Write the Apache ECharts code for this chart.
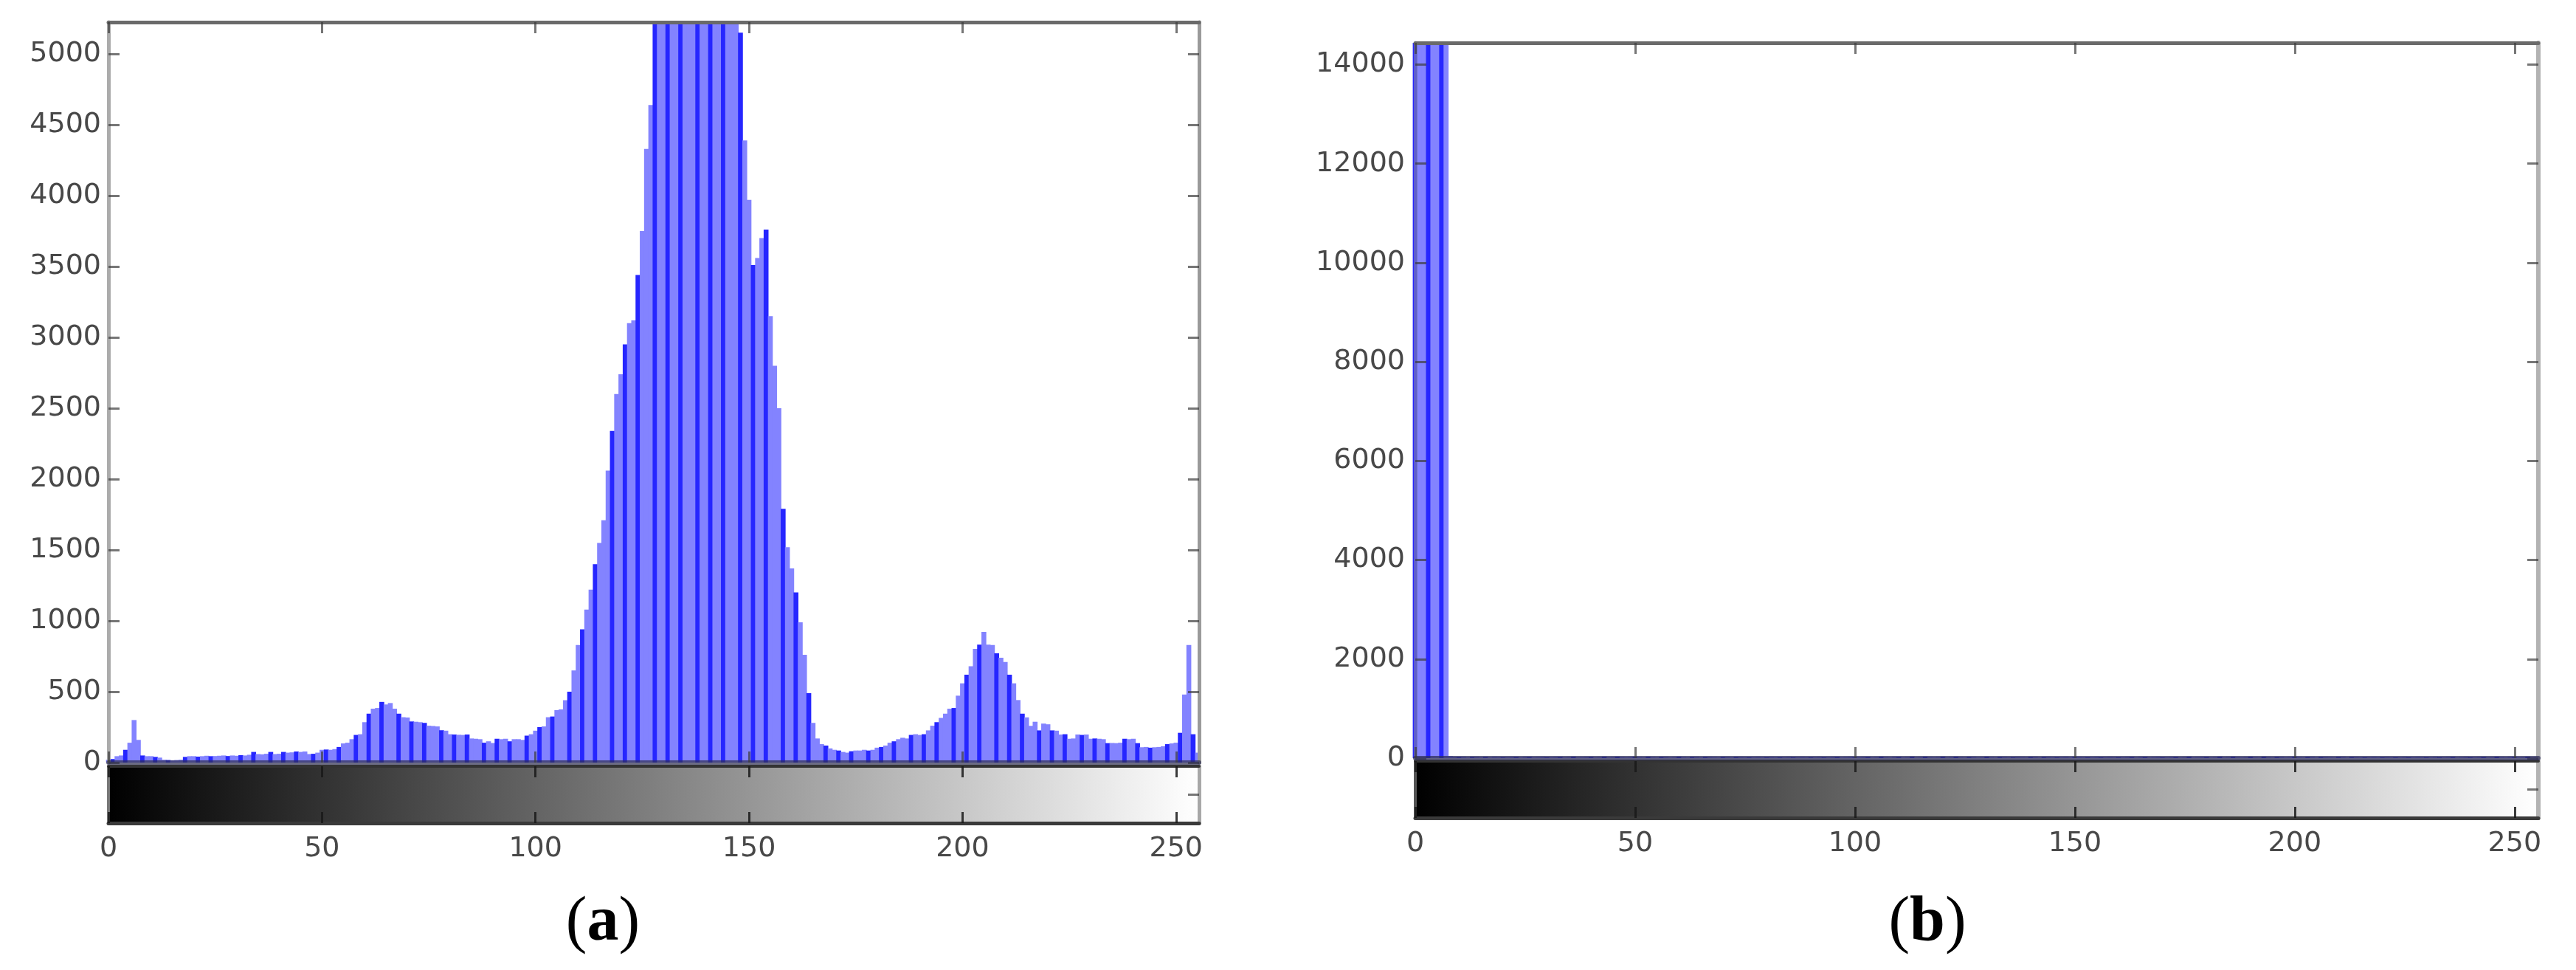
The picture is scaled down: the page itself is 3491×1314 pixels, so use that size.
<!DOCTYPE html>
<html><head><meta charset="utf-8">
<script src="https://cdn.jsdelivr.net/npm/echarts@6/dist/echarts.min.js"></script>
<style>html,body{margin:0;padding:0;background:#fff}#c{width:3491px;height:1314px}</style>
</head><body><div id="c"></div>
<script>
// ---------------- data ----------------
const grayLevels = Array.from({length: 256}, (_, i) => i);

const countsA = [
  20, 25, 45, 50, 90, 140, 300, 160, 50, 45, 45, 40, 35, 20, 18, 16,
  18, 20, 40, 45, 45, 42, 45, 48, 45, 46, 48, 50, 46, 50, 48, 52,
  50, 55, 75, 60, 58, 62, 75, 60, 62, 75, 70, 72, 78, 75, 78, 60,
  62, 70, 90, 92, 90, 95, 110, 135, 140, 165, 195, 200, 285, 345, 380, 385,
  428, 410, 420, 380, 345, 320, 318, 290, 288, 285, 280, 260, 258, 255, 228, 225,
  200, 198, 196, 195, 198, 170, 168, 165, 140, 150, 138, 168, 165, 168, 150, 165,
  165, 160, 190, 200, 225, 250, 255, 320, 325, 370, 375, 440, 500, 650, 830, 940,
  1080, 1220, 1400, 1550, 1710, 2060, 2340, 2600, 2740, 2950, 3100, 3120, 3440, 3750, 4330, 4640,
  5600, 6000, 6400, 6800, 7100, 7400, 7600, 7800, 7900, 8000, 7950, 7800, 7600, 7300, 7000, 6600,
  6200, 5900, 5600, 5400, 5150, 4390, 3970, 3510, 3560, 3700, 3760, 3150, 2800, 2500, 1790, 1520,
  1370, 1200, 990, 760, 490, 280, 170, 130, 120, 100, 90, 85, 75, 70, 80, 85,
  85, 90, 85, 90, 105, 110, 120, 140, 150, 165, 175, 170, 195, 200, 195, 200,
  227, 260, 285, 315, 345, 380, 385, 472, 559, 620, 680, 802, 832, 922, 832, 830,
  771, 740, 710, 620, 559, 441, 345, 319, 259, 288, 227, 275, 270, 227, 225, 198,
  200, 168, 170, 198, 195, 198, 168, 170, 168, 165, 137, 138, 137, 140, 168, 165,
  168, 137, 108, 110, 105, 108, 110, 115, 130, 135, 140, 210, 480, 830, 200, 70
];

const countsB = [
  16000, 17500, 19000, 20000, 19500, 18000, 16500, 15500, 40, 30, 25, 30, 20, 25, 30, 20,
  25, 20, 30, 25, 20, 25, 30, 25, 20, 30, 25, 20, 25, 30, 20, 25,
  30, 25, 20, 25, 30, 20, 25, 30, 25, 20, 25, 30, 20, 25, 30, 25,
  20, 25, 30, 25, 20, 30, 25, 20, 25, 30, 20, 25, 30, 25, 20, 25,
  30, 20, 25, 30, 25, 20, 25, 30, 20, 25, 30, 25, 20, 25, 30, 25,
  20, 30, 25, 20, 25, 30, 20, 25, 30, 25, 20, 25, 30, 20, 25, 30,
  25, 20, 25, 30, 20, 25, 30, 25, 20, 25, 30, 25, 20, 30, 25, 20,
  25, 30, 20, 25, 30, 25, 20, 25, 30, 20, 25, 30, 25, 20, 25, 30,
  20, 25, 30, 25, 20, 25, 30, 25, 20, 30, 25, 20, 25, 30, 20, 25,
  30, 25, 20, 25, 30, 20, 25, 30, 25, 20, 25, 30, 20, 25, 30, 25,
  20, 25, 30, 25, 20, 30, 25, 20, 25, 30, 20, 25, 30, 25, 20, 25,
  30, 20, 25, 30, 25, 20, 25, 30, 20, 25, 30, 25, 20, 25, 30, 25,
  20, 30, 25, 20, 25, 30, 20, 25, 30, 25, 20, 25, 30, 20, 25, 30,
  25, 20, 25, 30, 20, 25, 30, 25, 20, 25, 30, 25, 20, 30, 25, 20,
  25, 30, 20, 25, 30, 25, 20, 25, 30, 20, 25, 30, 25, 20, 25, 30,
  20, 25, 30, 25, 20, 25, 30, 25, 20, 30, 25, 20, 25, 30, 20, 25
];

const xTicks = [0, 50, 100, 150, 200, 250];
const yTicksA = [0, 500, 1000, 1500, 2000, 2500, 3000, 3500, 4000, 4500, 5000];
const yTicksB = [0, 2000, 4000, 6000, 8000, 10000, 12000, 14000];
const captions = ['a', 'b'];

// ---------------- styling helpers ----------------
const X_MAX = 255.4;
const LABEL_FONT = { fontFamily: 'DejaVu Sans', fontSize: 38, color: '#484848' };
const plain = v => String(v);
const histTick = { show: true, inside: true, length: 15, lineStyle: { color: 'rgba(60,60,60,0.7)', width: 3 } };
const barTick = { show: true, inside: true, length: 15, lineStyle: { color: 'rgba(25,25,25,0.85)', width: 3 } };

function xAx(grid, pos, lineColor, lineWidth, tick, labels, z) {
  return {
    type: 'value', gridIndex: grid, position: pos, min: 0, max: X_MAX, z: z || 5,
    axisLine: { show: true, onZero: false, lineStyle: { color: lineColor, width: lineWidth } },
    axisTick: Object.assign({ customValues: xTicks }, tick),
    axisLabel: labels ? Object.assign({ show: true, customValues: xTicks, margin: 16, formatter: plain }, LABEL_FONT) : { show: false },
    splitLine: { show: false }
  };
}
function yAx(grid, pos, max, ticks, lineColor, lineWidth, tick, labels, margin) {
  return {
    type: 'value', gridIndex: grid, position: pos, min: 0, max: max, z: 5,
    axisLine: { show: true, onZero: false, lineStyle: { color: lineColor, width: lineWidth } },
    axisTick: Object.assign({ customValues: ticks }, tick),
    axisLabel: labels ? Object.assign({ show: true, customValues: ticks, margin: margin, formatter: plain }, LABEL_FONT) : { show: false },
    splitLine: { show: false }
  };
}
function stemColor(darkSet) {
  return p => darkSet.indexOf(p.dataIndex % 10) >= 0 ? '#2626ff' : '#8383ff';
}
const gradient = new echarts.graphic.LinearGradient(0, 0, 1, 0, [
  { offset: 0, color: '#000000' }, { offset: 1, color: '#ffffff' }
]);
const captionRich = {
  p: { fontFamily: 'Liberation Serif', fontSize: 86, fill: '#000' },
  b: { fontFamily: 'Liberation Serif', fontSize: 86, fontWeight: 'bold', fill: '#000' }
};

const chart = echarts.init(document.getElementById('c'), null, { renderer: 'canvas' });
chart.setOption({
  animation: false,
  backgroundColor: '#ffffff',
  grid: [
    { left: 147, top: 30, width: 1478, height: 1003 },
    { left: 147, top: 1038, width: 1478, height: 77, show: true, backgroundColor: gradient, borderWidth: 0 },
    { left: 1918, top: 58, width: 1522, height: 969 },
    { left: 1918, top: 1031, width: 1522, height: 77, show: true, backgroundColor: gradient, borderWidth: 0 }
  ],
  xAxis: [
    xAx(0, 'bottom', 'rgba(45,45,80,0.7)', 6, histTick, false, 6),
    xAx(0, 'top', '#6a6a6a', 5, histTick, false),
    xAx(1, 'bottom', '#3a3a3a', 5, barTick, true),
    xAx(1, 'top', '#333333', 4, barTick, false),
    xAx(2, 'bottom', 'rgba(45,45,90,0.75)', 6, histTick, false, 6),
    xAx(2, 'top', '#6a6a6a', 5, histTick, false),
    xAx(3, 'bottom', '#3a3a3a', 5, barTick, true),
    xAx(3, 'top', '#333333', 4, barTick, false)
  ],
  yAxis: [
    yAx(0, 'left', 5224, yTicksA, 'rgba(150,150,150,0.8)', 5, histTick, true, 10),
    yAx(0, 'right', 5224, yTicksA, '#9a9a9a', 5, histTick, false),
    yAx(1, 'left', 1, [], '#777777', 4, { show: false }, false),
    yAx(1, 'right', 1, [0.5], '#a8a8a8', 5, histTick, false),
    yAx(2, 'left', 14440, yTicksB, 'rgba(150,150,150,0.5)', 5, histTick, true, 14),
    yAx(2, 'right', 14440, yTicksB, '#b3b3b3', 6, histTick, false),
    yAx(3, 'left', 1, [], '#555555', 4, { show: false }, false),
    yAx(3, 'right', 1, [0.5], '#b3b3b3', 6, histTick, false)
  ],
  series: [
    {
      type: 'bar', xAxisIndex: 0, yAxisIndex: 0, barWidth: 6.6, clip: true,
      data: grayLevels.map((g, i) => [g, countsA[i]]),
      itemStyle: { color: stemColor([1, 4, 8]) }
    },
    {
      type: 'bar', xAxisIndex: 4, yAxisIndex: 4, barWidth: 6.8, clip: true,
      data: grayLevels.map((g, i) => [g, countsB[i]]),
      itemStyle: { color: stemColor([0, 3, 6]) }
    }
  ],
  graphic: [
    { type: 'text', x: 817, y: 1251, style: { text: '{p|(}{b|' + captions[0] + '}{p|)}', align: 'center', verticalAlign: 'middle', rich: captionRich } },
    { type: 'text', x: 2612, y: 1251, style: { text: '{p|(}{b|' + captions[1] + '}{p|)}', align: 'center', verticalAlign: 'middle', rich: captionRich } }
  ]
});
</script>
</body></html>
